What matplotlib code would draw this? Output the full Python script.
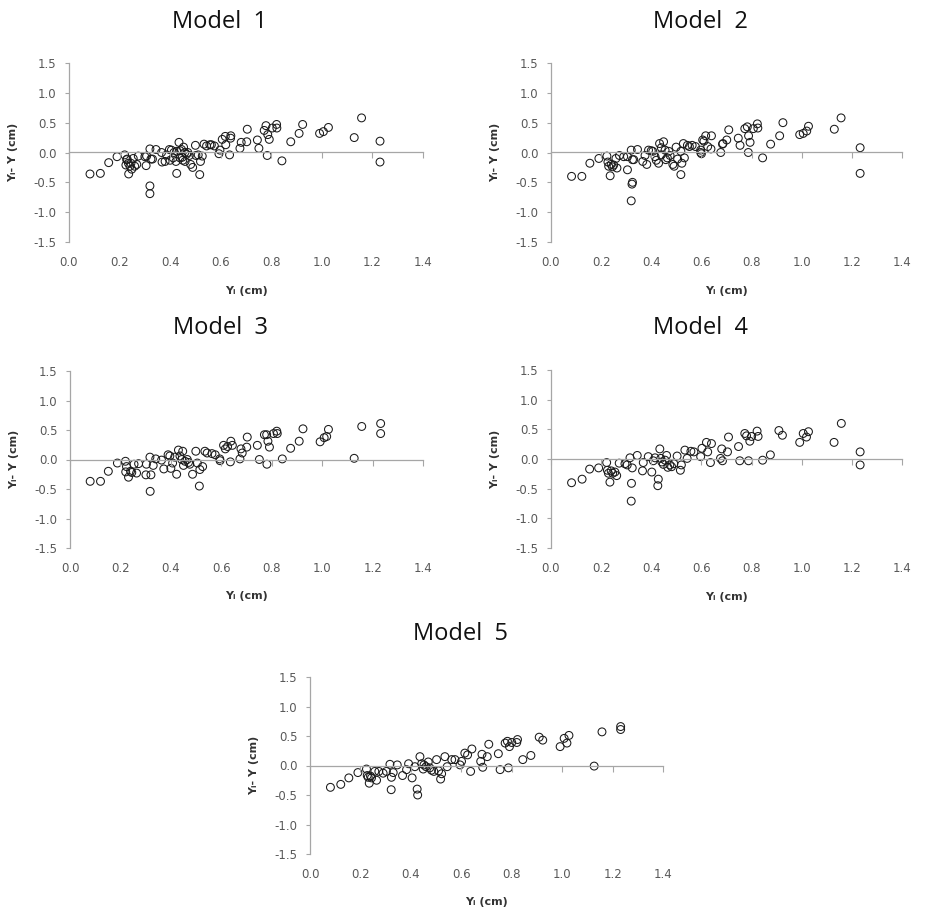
import matplotlib.pyplot as plt

# --- Daten ---
titles = ["Model  1", "Model  2", "Model  3", "Model  4", "Model  5"]
x_ticks = [0.0, 0.2, 0.4, 0.6, 0.8, 1.0, 1.2, 1.4]
y_ticks = [-1.5, -1.0, -0.5, 0.0, 0.5, 1.0, 1.5]

m1_x = [0.083, 0.124, 0.157, 0.190, 0.220, 0.228, 0.230, 0.225, 0.235, 0.241, 0.245, 0.236,
        0.248, 0.254, 0.260, 0.268, 0.274, 0.300, 0.305, 0.307, 0.320, 0.324, 0.330, 0.320,
        0.320, 0.344, 0.366, 0.368, 0.380, 0.386, 0.397, 0.400, 0.405, 0.412, 0.415, 0.423,
        0.426, 0.426, 0.435, 0.439, 0.439, 0.445, 0.448, 0.450, 0.453, 0.458, 0.459, 0.465,
        0.470, 0.476, 0.481, 0.489, 0.500, 0.502, 0.511, 0.517, 0.520, 0.527, 0.534, 0.544,
        0.557, 0.563, 0.575, 0.593, 0.597, 0.606, 0.618, 0.620, 0.635, 0.639, 0.640, 0.676,
        0.681, 0.703, 0.705, 0.745, 0.751, 0.772, 0.779, 0.786, 0.792, 0.784, 0.804, 0.821,
        0.822, 0.842, 0.877, 0.910, 0.924, 0.991, 1.006, 1.026, 1.128, 1.157, 1.230, 1.230]
m1_y = [-0.36, -0.35, -0.17, -0.07, -0.04, -0.12, -0.11, -0.21, -0.18, -0.23, -0.18, -0.36,
        -0.28, -0.10, -0.23, -0.20, -0.06, -0.07, -0.22, -0.06, 0.06, -0.11, -0.11, -0.56,
        -0.69, 0.05, 0.00, -0.16, -0.15, -0.04, 0.05, -0.13, 0.04, -0.09, 0.00, -0.15,
        -0.35, 0.02, 0.17, 0.03, -0.09, 0.05, -0.08, -0.13, 0.09, 0.00, -0.15, -0.03,
        0.00, -0.05, -0.20, -0.25, 0.12, -0.05, -0.04, -0.37, -0.15, -0.06, 0.14, 0.11,
        0.13, 0.13, 0.11, -0.02, 0.04, 0.22, 0.27, 0.13, -0.04, 0.24, 0.28, 0.07,
        0.17, 0.18, 0.39, 0.21, 0.07, 0.37, 0.45, 0.30, 0.22, -0.05, 0.41, 0.47,
        0.41, -0.14, 0.18, 0.32, 0.47, 0.32, 0.35, 0.42, 0.25, 0.58, 0.19, -0.16]

m2_x = [0.082, 0.123, 0.155, 0.191, 0.223, 0.227, 0.230, 0.240, 0.250, 0.236, 0.245, 0.259,
        0.263, 0.273, 0.290, 0.305, 0.305, 0.320, 0.325, 0.330, 0.323, 0.325, 0.320, 0.345,
        0.366, 0.375, 0.382, 0.389, 0.400, 0.406, 0.415, 0.420, 0.429, 0.433, 0.440, 0.440,
        0.449, 0.455, 0.458, 0.464, 0.470, 0.475, 0.486, 0.491, 0.499, 0.505, 0.518, 0.518,
        0.522, 0.532, 0.528, 0.544, 0.552, 0.563, 0.576, 0.597, 0.597, 0.600, 0.605, 0.610,
        0.617, 0.625, 0.640, 0.638, 0.677, 0.684, 0.686, 0.701, 0.709, 0.747, 0.754, 0.773,
        0.783, 0.788, 0.794, 0.787, 0.807, 0.823, 0.825, 0.844, 0.876, 0.912, 0.925, 0.992,
        1.006, 1.020, 1.027, 1.130, 1.157, 1.233, 1.233]
m2_y = [-0.40, -0.40, -0.18, -0.10, -0.06, -0.16, -0.23, -0.20, -0.21, -0.39, -0.24, -0.10,
        -0.26, -0.05, -0.07, -0.29, -0.07, 0.04, -0.12, -0.12, -0.53, -0.50, -0.81, 0.05,
        -0.15, -0.05, -0.20, 0.04, 0.03, 0.02, -0.07, -0.13, -0.18, 0.15, -0.04, 0.08,
        0.18, 0.04, -0.12, -0.09, 0.02, -0.05, -0.20, -0.23, 0.09, -0.11, 0.02, -0.37,
        -0.18, -0.09, 0.15, 0.12, 0.10, 0.12, 0.10, 0.00, 0.04, -0.02, 0.21, 0.19,
        0.28, 0.10, 0.28, 0.06, 0.00, 0.14, 0.15, 0.21, 0.38, 0.24, 0.12, 0.40,
        0.43, 0.28, 0.17, 0.00, 0.40, 0.48, 0.41, -0.09, 0.14, 0.28, 0.50, 0.30,
        0.32, 0.36, 0.44, 0.39, 0.58, 0.08, -0.35]

m3_x = [0.080, 0.121, 0.152, 0.188, 0.220, 0.224, 0.221, 0.240, 0.232, 0.245, 0.254, 0.264,
        0.272, 0.301, 0.303, 0.317, 0.321, 0.330, 0.318, 0.340, 0.363, 0.372, 0.389, 0.396,
        0.400, 0.407, 0.415, 0.423, 0.430, 0.436, 0.443, 0.447, 0.450, 0.456, 0.465, 0.470,
        0.475, 0.486, 0.499, 0.505, 0.513, 0.515, 0.526, 0.535, 0.544, 0.563, 0.576, 0.594,
        0.595, 0.609, 0.616, 0.625, 0.636, 0.638, 0.644, 0.674, 0.678, 0.683, 0.703, 0.701,
        0.743, 0.751, 0.771, 0.780, 0.785, 0.791, 0.781, 0.807, 0.820, 0.822, 0.842, 0.875,
        0.909, 0.924, 0.992, 1.008, 1.018, 1.025, 1.127, 1.157, 1.232, 1.232]
m3_y = [-0.37, -0.37, -0.20, -0.06, -0.03, -0.12, -0.21, -0.20, -0.30, -0.22, -0.08, -0.23,
        -0.07, -0.26, -0.08, 0.04, -0.26, -0.10, -0.54, 0.01, -0.01, -0.16, 0.08, 0.06,
        -0.15, -0.06, 0.04, -0.25, 0.16, 0.06, 0.00, 0.14, -0.10, -0.03, 0.00, -0.05,
        -0.08, -0.25, 0.14, -0.06, -0.45, -0.17, -0.12, 0.14, 0.11, 0.10, 0.08, 0.01,
        -0.02, 0.24, 0.18, 0.22, -0.04, 0.31, 0.24, 0.01, 0.18, 0.11, 0.38, 0.21,
        0.24, 0.00, 0.42, 0.42, 0.31, 0.21, -0.08, 0.44, 0.48, 0.44, 0.01, 0.19,
        0.31, 0.52, 0.30, 0.37, 0.39, 0.51, 0.02, 0.56, 0.61, 0.44]

m4_x = [0.082, 0.124, 0.154, 0.190, 0.222, 0.225, 0.229, 0.246, 0.235, 0.240, 0.262, 0.255,
        0.272, 0.295, 0.304, 0.315, 0.324, 0.321, 0.320, 0.344, 0.365, 0.368, 0.388, 0.402,
        0.408, 0.415, 0.428, 0.426, 0.434, 0.438, 0.442, 0.448, 0.455, 0.461, 0.466, 0.474,
        0.481, 0.490, 0.503, 0.516, 0.520, 0.534, 0.543, 0.558, 0.570, 0.597, 0.602, 0.620,
        0.625, 0.636, 0.640, 0.676, 0.684, 0.681, 0.704, 0.708, 0.748, 0.753, 0.773, 0.780,
        0.793, 0.788, 0.800, 0.822, 0.826, 0.844, 0.875, 0.909, 0.923, 0.992, 1.006, 1.019,
        1.027, 1.129, 1.158, 1.233, 1.233]
m4_y = [-0.40, -0.34, -0.17, -0.15, -0.06, -0.19, -0.24, -0.24, -0.39, -0.20, -0.28, -0.22,
        -0.07, -0.08, -0.10, 0.02, -0.15, -0.41, -0.71, 0.06, -0.20, -0.06, 0.04, -0.22,
        -0.03, 0.02, -0.34, -0.45, 0.17, 0.01, -0.05, -0.09, -0.02, 0.06, -0.14, -0.10,
        -0.13, -0.08, 0.05, -0.19, -0.10, 0.15, 0.01, 0.13, 0.12, 0.04, 0.18, 0.28,
        0.12, -0.06, 0.26, 0.01, -0.03, 0.17, 0.12, 0.37, 0.21, -0.03, 0.43, 0.39,
        0.30, -0.03, 0.38, 0.47, 0.38, -0.02, 0.07, 0.48, 0.40, 0.28, 0.43, 0.37,
        0.46, 0.28, 0.60, 0.12, -0.10]

m5_x = [0.081, 0.122, 0.154, 0.190, 0.224, 0.227, 0.231, 0.235, 0.244, 0.240, 0.257, 0.264,
        0.273, 0.290, 0.303, 0.317, 0.323, 0.322, 0.330, 0.346, 0.367, 0.383, 0.391, 0.405,
        0.416, 0.425, 0.427, 0.436, 0.443, 0.449, 0.452, 0.460, 0.469, 0.475, 0.482, 0.491,
        0.502, 0.510, 0.518, 0.522, 0.535, 0.544, 0.562, 0.575, 0.595, 0.601, 0.614, 0.625,
        0.637, 0.642, 0.677, 0.685, 0.682, 0.703, 0.709, 0.747, 0.754, 0.774, 0.783, 0.791,
        0.787, 0.800, 0.823, 0.820, 0.844, 0.876, 0.909, 0.923, 0.992, 1.008, 1.019, 1.027,
        1.127, 1.158, 1.232, 1.232]
m5_y = [-0.37, -0.32, -0.21, -0.12, -0.06, -0.17, -0.20, -0.30, -0.21, -0.18, -0.10, -0.25,
        -0.10, -0.13, -0.10, 0.02, -0.20, -0.41, -0.12, 0.01, -0.17, -0.07, 0.03, -0.21,
        -0.02, -0.40, -0.50, 0.15, 0.03, -0.06, 0.01, -0.02, 0.06, -0.04, -0.08, -0.10,
        0.10, -0.09, -0.23, -0.14, 0.15, -0.02, 0.10, 0.10, 0.01, 0.07, 0.21, 0.18,
        -0.10, 0.28, 0.07, -0.03, 0.19, 0.15, 0.36, 0.20, -0.07, 0.38, 0.41, 0.32,
        -0.04, 0.39, 0.44, 0.39, 0.10, 0.17, 0.48, 0.43, 0.32, 0.46, 0.38, 0.51,
        -0.01, 0.57, 0.66, 0.61]

series = [(m1_x, m1_y), (m2_x, m2_y), (m3_x, m3_y), (m4_x, m4_y), (m5_x, m5_y)]

# Positionen in Pixeln (links, oben, rechts, unten) und Titelmitte
W, H = 938, 924
boxes = [(69, 63, 423, 242), (551, 63, 902, 242),
         (70, 371, 423, 548), (551, 370, 902, 548),
         (310, 677, 663, 854)]
title_pos = [(220, 22), (700, 22), (220, 328), (700, 328), (460, 634)]

fig = plt.figure(figsize=(W / 100, H / 100), dpi=100)

for i, (xs, ys) in enumerate(series):
    l, t, r, b = boxes[i]
    ax = fig.add_axes([l / W, 1 - b / H, (r - l) / W, (b - t) / H])
    ax.scatter(xs, ys, s=32, facecolors="none", edgecolors="#1a1a1a", linewidths=0.75)
    ax.set_xlim(0, 1.4)
    ax.set_ylim(-1.5, 1.5)
    ax.set_xticks(x_ticks)
    ax.set_yticks(y_ticks)
    ax.set_xticklabels([f"{v:.1f}" for v in x_ticks])
    ax.set_yticklabels([f"{v:.1f}" for v in y_ticks])

    # Achse bei y = 0 (wie Excel)
    ax.spines["bottom"].set_visible(False)
    ax.spines["right"].set_visible(False)
    ax.spines["top"].set_position(("data", 0))
    for s in ["top", "left"]:
        ax.spines[s].set_color("#a6a6a6")
        ax.spines[s].set_linewidth(0.9)
    ax.tick_params(axis="x", top=True, bottom=False, labeltop=False, labelbottom=True,
                   direction="in", length=4, width=0.8, color="#a6a6a6",
                   labelsize=8.5, labelcolor="#595959", pad=10)
    ax.tick_params(axis="y", direction="out", length=3, width=0.8, color="#a6a6a6",
                   labelsize=8.5, labelcolor="#595959", pad=6)

    ax.set_xlabel("Yᵢ (cm)", fontsize=8, fontweight="bold", color="#333333")
    ax.xaxis.set_label_coords(0.5, -0.245)
    ax.set_ylabel("Yᵢ- Y (cm)", fontsize=8, fontweight="bold", color="#333333")
    ax.yaxis.set_label_coords(-0.145, 0.5)

    tx, ty = title_pos[i]
    fig.text(tx / W, 1 - ty / H, titles[i], ha="center", va="center",
             fontsize=17, family="Open Sans", color="#111111")

plt.savefig("out.png", dpi=100)
